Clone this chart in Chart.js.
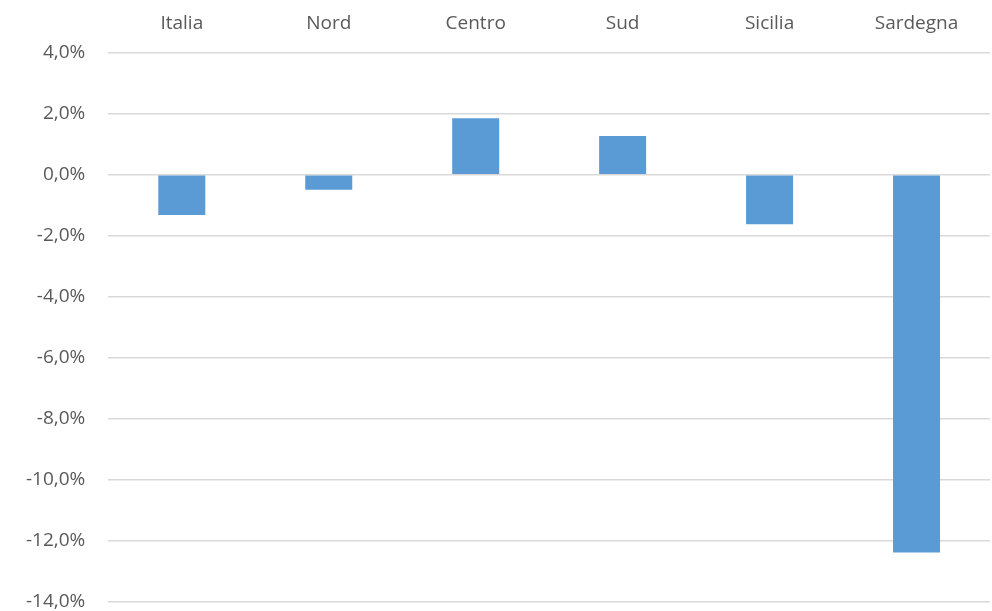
<!DOCTYPE html>
<html lang="it">
<head>
    <meta charset="UTF-8">
    <title>Variazione per area</title>
    <script src="https://cdn.jsdelivr.net/npm/chart.js"></script>
    <style>
        html, body { margin: 0; padding: 0; background: #fff; overflow: hidden; }
        /* contenitore più alto della finestra: l'asse -14% cade vicino al bordo inferiore */
        .chart-container { position: relative; width: 992px; height: 636px; }
    </style>
</head>
<body>
    <div class="chart-container">
        <canvas id="areaChart"></canvas>
    </div>
    <script>
        // Dati
        const categories = ['Italia', 'Nord', 'Centro', 'Sud', 'Sicilia', 'Sardegna'];
        const variazione = [-1.32, -0.49, 1.85, 1.27, -1.62, -12.39];
        const yTicks = [4, 2, 0, -2, -4, -6, -8, -10, -12, -14];

        const ctx = document.getElementById('areaChart').getContext('2d');
        const areaChart = new Chart(ctx, {
            type: 'bar',
            data: {
                labels: categories,
                datasets: [{
                    label: 'Variazione',
                    data: variazione,
                    backgroundColor: '#5b9bd5',
                    borderWidth: 0,
                    barPercentage: 0.32,
                    categoryPercentage: 1
                }]
            },
            options: {
                responsive: true,
                maintainAspectRatio: false,
                animation: false,
                layout: { padding: { top: 2, right: 2, bottom: 0, left: 3 } },
                plugins: {
                    legend: { display: false },
                    tooltip: { enabled: false }
                },
                scales: {
                    x: {
                        position: 'top',
                        grid: { display: false },
                        border: { display: false },
                        ticks: {
                            color: '#595959',
                            font: { family: 'Open Sans', size: 19 },
                            padding: 10
                        }
                    },
                    y: {
                        min: -14,
                        max: 4,
                        afterBuildTicks: axis => {
                            axis.ticks = yTicks.map(v => ({ value: v }));
                        },
                        grid: { color: '#d9d9d9', lineWidth: 1.5, drawTicks: false },
                        border: { display: false },
                        ticks: {
                            color: '#595959',
                            font: { family: 'Open Sans', size: 19 },
                            padding: 23,
                            callback: v => v.toFixed(1).replace('.', ',') + '%'
                        }
                    }
                }
            }
        });
    </script>
</body>
</html>
